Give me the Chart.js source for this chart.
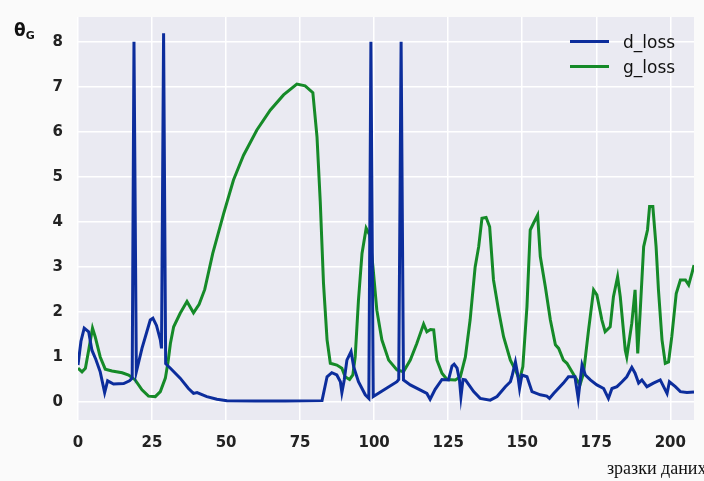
<!DOCTYPE html>
<html>
<head>
<meta charset="utf-8">
<script src="https://cdn.jsdelivr.net/npm/chart.js@4"></script>
<style>
  html, body { margin: 0; padding: 0; background: #fafafa; overflow: hidden; }
  #wrap { position: relative; width: 704px; height: 481px; overflow: hidden; }
  #chart { position: absolute; left: 0; top: 0; }
  .ylabel { position: absolute; left: 14px; top: 20px; font: bold 17px "DejaVu Sans", sans-serif; color: #111; }
  .ylabel sub { font-size: 11px; vertical-align: -3px; }
  .xlabel { position: absolute; left: 607px; top: 458px; font: 18px "Liberation Serif", serif; color: #111; white-space: nowrap; }
  #legend { position: absolute; left: 570px; top: 29px; font: 17px "DejaVu Sans", sans-serif; color: #111; }
  #legend .item { display: flex; align-items: center; height: 25px; }
  #legend .sw { width: 39px; height: 3px; margin-right: 14px; }
</style>
</head>
<body>
<div id="wrap">
  <canvas id="chart" width="704" height="481"></canvas>
  <div class="ylabel">θ<sub>G</sub></div>
  <div class="xlabel">зразки даних</div>
  <div id="legend"></div>
</div>
<script>
// values (sample index, loss)
const dLossX = [0, 1, 2.1, 3.6, 4.7, 6, 7.5, 9, 10, 12, 15.4, 17.4, 18.3, 18.9, 19.7, 21.6, 24.4, 25.3, 26.5, 27.8, 28.2, 28.9, 29.6, 31.2, 34.5, 37.3, 39, 40.2, 43.5, 46.9, 50.3, 60, 70, 82.4, 84.1, 85.7, 87.4, 88.6, 89.1, 89.9, 90.8, 92.2, 93.1, 94.7, 97, 98.2, 98.9, 99.7, 107.7, 108.3, 109.1, 109.9, 112.2, 117.8, 118.9, 120.6, 122.9, 125.1, 126.3, 127, 128, 128.8, 129.3, 130, 130.8, 133.6, 135.8, 139.2, 141.5, 144.3, 146, 146.5, 147.7, 148.4, 149.1, 149.9, 151.6, 153.3, 156.1, 158.3, 159.2, 160.6, 163.9, 165.6, 167.8, 168.9, 170.2, 171.3, 173, 175.2, 177.5, 179.1, 180.3, 182, 183.7, 185.3, 187, 188.1, 189.3, 190.4, 192.1, 194.3, 196.6, 198.9, 199.7, 201.7, 203.4, 205.6, 208];
const dLossY = [0.82, 1.35, 1.64, 1.56, 1.15, 0.95, 0.67, 0.21, 0.47, 0.40, 0.41, 0.47, 0.53, 8.0, 0.67, 1.19, 1.82, 1.86, 1.7, 1.38, 1.19, 8.19, 0.85, 0.75, 0.53, 0.30, 0.19, 0.21, 0.12, 0.06, 0.03, 0.02, 0.02, 0.03, 0.56, 0.65, 0.60, 0.45, 0.21, 0.49, 0.93, 1.12, 0.78, 0.45, 0.16, 0.08, 8.0, 0.12, 0.45, 0.50, 8.0, 0.49, 0.38, 0.19, 0.06, 0.28, 0.50, 0.49, 0.80, 0.84, 0.75, 0.49, 0.12, 0.50, 0.49, 0.23, 0.08, 0.04, 0.12, 0.34, 0.45, 0.56, 0.89, 0.64, 0.30, 0.60, 0.56, 0.23, 0.16, 0.13, 0.08, 0.19, 0.42, 0.56, 0.56, 0.08, 0.82, 0.60, 0.49, 0.38, 0.30, 0.08, 0.30, 0.34, 0.45, 0.56, 0.77, 0.64, 0.42, 0.49, 0.34, 0.42, 0.49, 0.19, 0.45, 0.34, 0.23, 0.21, 0.22];

const gLossX = [0, 1.35, 2.5, 3.6, 4.9, 5.8, 7.5, 9.2, 11.5, 14.9, 17.1, 19.3, 21.6, 23.8, 26.1, 27.8, 29.5, 30.4, 31.2, 32.3, 34.5, 36.8, 39, 40.9, 42.8, 45.5, 49.2, 52.5, 55.9, 60.4, 64.9, 69.4, 73.9, 76.7, 79.3, 80.7, 81.8, 82.9, 84.1, 85.2, 87.4, 89.1, 90.2, 91.7, 92.8, 93.6, 94.7, 95.9, 97.3, 98.5, 99.6, 100.9, 102.6, 104.9, 107.7, 109.9, 112.2, 114.4, 116.7, 117.8, 119, 120.1, 121.2, 122.9, 124.6, 127.4, 129.1, 130.8, 132.4, 134.1, 135.3, 136.4, 137.8, 139, 140.3, 142, 143.7, 146, 147.7, 149.1, 150.2, 151.6, 152.7, 153.8, 155.2, 156.1, 157.8, 159.5, 161.2, 162.3, 163.9, 165.1, 167.8, 169.5, 170.7, 172.4, 174.1, 175.2, 176.9, 178, 179.7, 180.8, 182.2, 183.1, 184.8, 185.3, 187, 188.1, 189, 189.8, 191, 192.3, 193, 194.1, 195.2, 196, 197.2, 198.3, 199.4, 200.5, 202, 203.4, 205.1, 206.2, 207.3, 208];
const gLossY = [0.75, 0.67, 0.75, 1.15, 1.64, 1.45, 1.0, 0.73, 0.69, 0.65, 0.6, 0.49, 0.27, 0.13, 0.12, 0.23, 0.53, 0.89, 1.3, 1.67, 1.97, 2.23, 1.98, 2.17, 2.5, 3.3, 4.19, 4.93, 5.48, 6.04, 6.48, 6.82, 7.06, 7.02, 6.87, 5.89, 4.45, 2.63, 1.38, 0.86, 0.82, 0.75, 0.56, 0.50, 0.60, 1.0, 2.26, 3.3, 3.86, 3.71, 3.0, 2.04, 1.38, 0.93, 0.71, 0.67, 0.93, 1.3, 1.73, 1.56, 1.61, 1.6, 0.93, 0.64, 0.50, 0.49, 0.56, 1.0, 1.82, 3.0, 3.45, 4.08, 4.1, 3.89, 2.71, 2.04, 1.45, 0.93, 0.71, 0.49, 0.78, 2.12, 3.82, 3.97, 4.15, 3.23, 2.56, 1.82, 1.27, 1.19, 0.93, 0.86, 0.56, 0.38, 0.64, 1.6, 2.49, 2.38, 1.82, 1.56, 1.67, 2.34, 2.78, 2.34, 1.15, 1.0, 1.75, 2.49, 1.08, 1.97, 3.45, 3.82, 4.34, 4.34, 3.45, 2.49, 1.38, 0.86, 0.89, 1.45, 2.41, 2.71, 2.71, 2.6, 2.86, 3.04];

const xTicks = [0, 25, 50, 75, 100, 125, 150, 175, 200];
const yTicks = [0, 1, 2, 3, 4, 5, 6, 7, 8];

const series = [
  { label: 'd_loss', xs: dLossX, ys: dLossY, color: '#0c2d9c' },
  { label: 'g_loss', xs: gLossX, ys: gLossY, color: '#158a28' }
];

const plotBg = {
  id: 'plotBg',
  beforeDraw(chart) {
    const { ctx, chartArea: a } = chart;
    ctx.save();
    ctx.fillStyle = '#eaeaf2';
    ctx.fillRect(a.left, a.top, a.right - a.left, a.bottom - a.top);
    ctx.restore();
  }
};

const tickFont = { family: 'DejaVu Sans', size: 15, weight: 'bold' };

const chart = new Chart(document.getElementById('chart'), {
  type: 'line',
  data: {
    datasets: series.map(s => ({
      label: s.label,
      data: s.xs.map((x, i) => ({ x: x, y: s.ys[i] })),
      borderColor: s.color,
      backgroundColor: s.color,
      borderWidth: 3,
      pointRadius: 0,
      tension: 0,
      fill: false
    }))
  },
  options: {
    responsive: false,
    animation: false,
    devicePixelRatio: 1,
    layout: { padding: { left: 0, right: 10, top: 17, bottom: 0 } },
    plugins: { legend: { display: false }, tooltip: { enabled: false } },
    scales: {
      x: {
        type: 'linear',
        min: 0,
        max: 208,
        afterBuildTicks: s => { s.ticks = xTicks.map(v => ({ value: v })); },
        afterFit: s => { s.height = 61; s.paddingLeft = 0; s.paddingRight = 0; },
        grid: { color: '#ffffff', lineWidth: 1.5, drawTicks: false },
        border: { display: false },
        ticks: { font: tickFont, color: '#222', padding: 14, maxRotation: 0 }
      },
      y: {
        min: -0.4,
        max: 8.55,
        afterBuildTicks: s => { s.ticks = yTicks.map(v => ({ value: v })); },
        afterFit: s => { s.width = 78; s.paddingTop = 0; s.paddingBottom = 0; },
        grid: { color: '#ffffff', lineWidth: 1.5, drawTicks: false },
        border: { display: false },
        ticks: { font: tickFont, color: '#222', padding: 15 }
      }
    }
  },
  plugins: [plotBg]
});

const legend = document.getElementById('legend');
chart.data.datasets.forEach(ds => {
  const item = document.createElement('div');
  item.className = 'item';
  const sw = document.createElement('span');
  sw.className = 'sw';
  sw.style.background = ds.borderColor;
  const txt = document.createElement('span');
  txt.textContent = ds.label;
  item.appendChild(sw);
  item.appendChild(txt);
  legend.appendChild(item);
});
</script>
</body>
</html>
